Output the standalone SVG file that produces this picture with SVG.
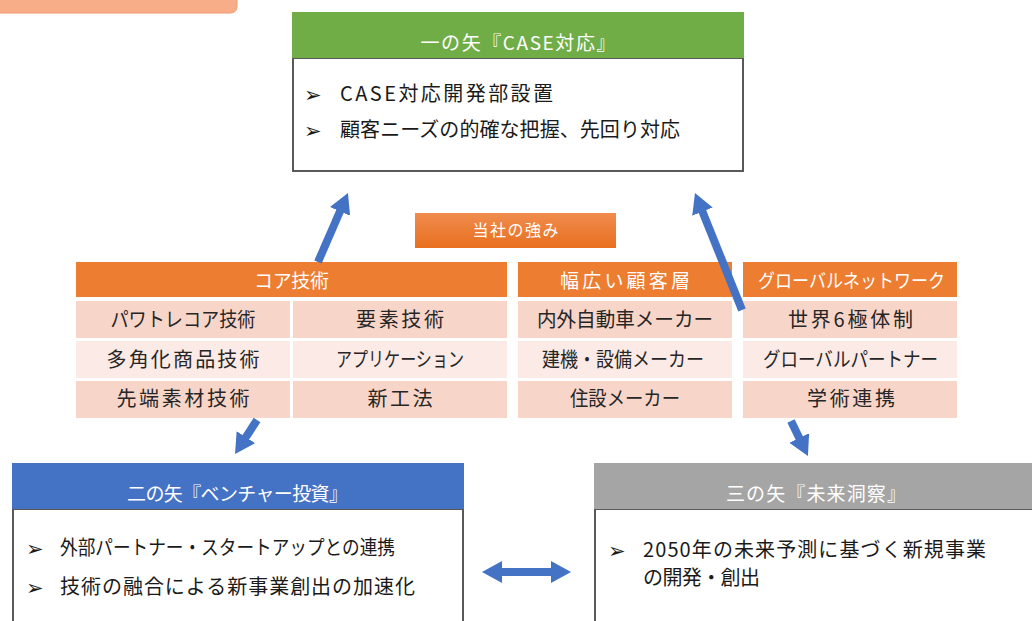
<svg xmlns="http://www.w3.org/2000/svg" width="1032" height="621" viewBox="0 0 1032 621">
<style>
text{font-family:"Noto Sans CJK JP","Noto Sans",sans-serif;}
.hd{fill:#ffffff;font-size:19px;text-anchor:middle;}
.cell{fill:#262626;font-size:20px;text-anchor:middle;}
.bul{fill:#1a1a1a;font-size:20px;}
.mk{fill:#1a1a1a;font-size:21px;font-family:"DejaVu Sans",sans-serif;}
.body{fill:#ffffff;stroke:#595959;stroke-width:2;}
.or{fill:#ED7D31;}
.r1{fill:#F8D5C9;}
.r2{fill:#FBEAE5;}
.arr{stroke:#4472C4;stroke-width:8;fill:none;}
</style>
<defs>
<marker id="ah" markerUnits="userSpaceOnUse" markerWidth="24" markerHeight="24" refX="2" refY="11" orient="auto-start-reverse">
<path d="M0,0 L20,11 L0,22 z" fill="#4472C4"/>
</marker>
<linearGradient id="og" x1="0" y1="0" x2="0" y2="1">
<stop offset="0" stop-color="#F08C4E"/>
<stop offset="1" stop-color="#E86F1E"/>
</linearGradient>
</defs>
<rect width="1032" height="621" fill="#ffffff"/>

<g id="title-tab">
<path d="M-2,-2 H237 V6 Q237,13 230,13 H-2 z" fill="#F6AD88" stroke="#F29A70" stroke-width="1"/>
</g>

<g id="arrow1">
<rect class="body" x="293" y="58" width="450" height="113"/>
<rect x="292" y="12" width="452" height="46" fill="#70AD47"/>
<text class="hd" x="518" y="50" textLength="195">一の矢『CASE対応』</text>
<text class="mk" x="304" y="102">➢</text>
<text class="bul" x="340" y="101" textLength="213">CASE対応開発部設置</text>
<text class="mk" x="304" y="138">➢</text>
<text class="bul" x="340" y="137" textLength="340">顧客ニーズの的確な把握、先回り対応</text>
</g>

<g id="strength">
<rect x="415" y="213" width="201" height="35" fill="url(#og)"/>
<text x="515.5" y="236" fill="#ffffff" font-size="16" text-anchor="middle" textLength="86">当社の強み</text>
</g>

<g id="core-tech">
<rect class="or" x="76" y="262" width="431" height="35"/>
<text class="hd" x="291.5" y="288" textLength="75">コア技術</text>
<rect class="r1" x="76" y="301" width="214" height="37"/>
<rect class="r1" x="293" y="301" width="214" height="37"/>
<rect class="r2" x="76" y="341" width="214" height="37"/>
<rect class="r2" x="293" y="341" width="214" height="37"/>
<rect class="r1" x="76" y="381" width="214" height="37"/>
<rect class="r1" x="293" y="381" width="214" height="37"/>
<text class="cell" x="183" y="327" textLength="145" lengthAdjust="spacingAndGlyphs">パワトレコア技術</text>
<text class="cell" x="400" y="327" textLength="88">要素技術</text>
<text class="cell" x="183" y="366.5" textLength="153">多角化商品技術</text>
<text class="cell" x="400" y="366.5" textLength="128" lengthAdjust="spacingAndGlyphs">アプリケーション</text>
<text class="cell" x="183" y="406" textLength="133">先端素材技術</text>
<text class="cell" x="400" y="406" textLength="65">新工法</text>
</g>

<g id="customers">
<rect class="or" x="518" y="262" width="214" height="35"/>
<text class="hd" x="625" y="288" textLength="130">幅広い顧客層</text>
<rect class="r1" x="518" y="301" width="214" height="37"/>
<rect class="r2" x="518" y="341" width="214" height="37"/>
<rect class="r1" x="518" y="381" width="214" height="37"/>
<text class="cell" x="625" y="327" textLength="176" lengthAdjust="spacingAndGlyphs">内外自動車メーカー</text>
<text class="cell" x="623" y="366.5" textLength="162" lengthAdjust="spacingAndGlyphs">建機・設備メーカー</text>
<text class="cell" x="625" y="406" textLength="110" lengthAdjust="spacingAndGlyphs">住設メーカー</text>
</g>

<g id="global">
<rect class="or" x="743" y="262" width="214" height="35"/>
<text class="hd" x="851.5" y="288" textLength="187" lengthAdjust="spacingAndGlyphs">グローバルネットワーク</text>
<rect class="r1" x="743" y="301" width="214" height="37"/>
<rect class="r2" x="743" y="341" width="214" height="37"/>
<rect class="r1" x="743" y="381" width="214" height="37"/>
<text class="cell" x="850.5" y="327" textLength="125">世界6極体制</text>
<text class="cell" x="850.5" y="366.5" textLength="175" lengthAdjust="spacingAndGlyphs">グローバルパートナー</text>
<text class="cell" x="851" y="406" textLength="88">学術連携</text>
</g>

<g id="arrow2">
<rect class="body" x="13" y="509" width="450" height="130"/>
<rect x="12" y="463" width="452" height="46" fill="#4472C4"/>
<text class="hd" x="237.5" y="501" textLength="221">二の矢『ベンチャー投資』</text>
<text class="mk" x="26" y="556">➢</text>
<text class="bul" x="60" y="555" textLength="335" lengthAdjust="spacingAndGlyphs">外部パートナー・スタートアップとの連携</text>
<text class="mk" x="26" y="595">➢</text>
<text class="bul" x="60" y="594" textLength="355">技術の融合による新事業創出の加速化</text>
</g>

<g id="arrow3">
<rect class="body" x="595" y="509" width="460" height="130"/>
<rect x="594" y="463" width="460" height="46" fill="#A5A5A5"/>
<text class="hd" x="816" y="501" fill="#F2F2F2" textLength="180">三の矢『未来洞察』</text>
<text class="mk" x="608" y="558">➢</text>
<text class="bul" x="643" y="557" textLength="343">2050年の未来予測に基づく新規事業</text>
<text class="bul" x="643" y="585" textLength="117">の開発・創出</text>
</g>

<g id="connectors">
<line class="arr" x1="318" y1="262" x2="340.8" y2="209.5" marker-end="url(#ah)"/>
<line class="arr" x1="742" y1="310" x2="701.7" y2="209.7" marker-end="url(#ah)"/>
<line class="arr" x1="257" y1="420" x2="244.8" y2="438.9" marker-end="url(#ah)"/>
<line class="arr" x1="791" y1="421" x2="800.1" y2="439.8" marker-end="url(#ah)"/>
<line class="arr" x1="500" y1="572" x2="553" y2="572" marker-start="url(#ah)" marker-end="url(#ah)"/>
</g>
</svg>
